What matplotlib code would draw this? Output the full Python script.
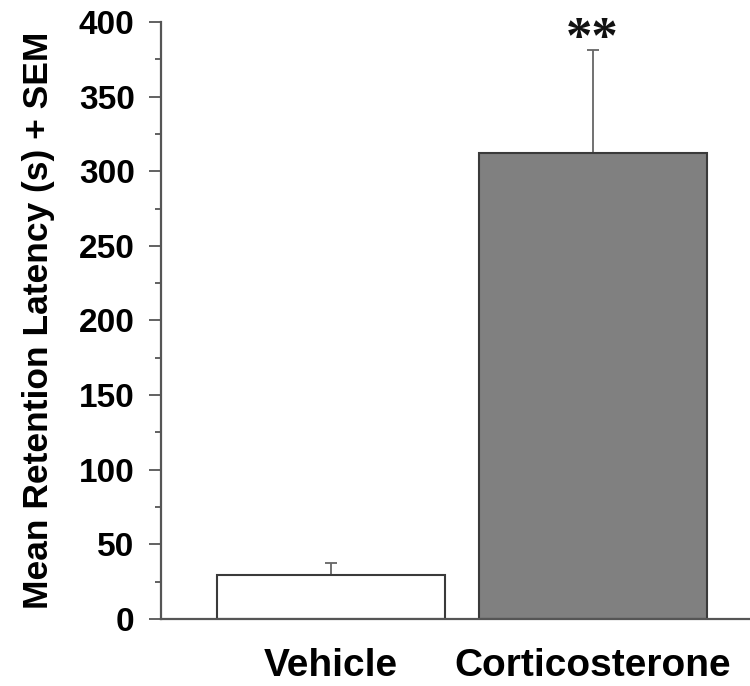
import matplotlib
matplotlib.use("Agg")
import matplotlib.pyplot as plt
from matplotlib.ticker import MultipleLocator

categories = ["Vehicle", "Corticosterone"]
means = [29.5, 312]
sem = [8, 69]
fills = ["#ffffff", "#808080"]
ylabel = "Mean Retention Latency (s) + SEM"
yticks = [0, 50, 100, 150, 200, 250, 300, 350, 400]
sig_label = "**"

plt.rcParams['font.family'] = ['Liberation Sans', 'DejaVu Sans']

fig = plt.figure(figsize=(7.5, 6.86), dpi=100)
ax = fig.add_axes([0.2147, 0.0977, 0.7853, 0.8703])

x = list(range(len(categories)))
ax.bar(x, means, width=0.872, color=fills, edgecolor="#3a3a3a", linewidth=1.5, zorder=2)
ax.errorbar(x, means, yerr=[[0, 0], sem], fmt='none', ecolor="#666666",
            elinewidth=1.3, capsize=4.5, capthick=1.3, zorder=1)

ax.text(x[1], means[1] + sem[1] - 1.5, sig_label, ha='center', va='baseline',
        fontsize=38, fontweight='bold', family=['Liberation Serif', 'DejaVu Serif'],
        color='#111111')

ax.set_xlim(-0.650, 1.602)
ax.set_ylim(0, 400)
ax.set_yticks(yticks)
ax.yaxis.set_minor_locator(MultipleLocator(25))
ax.set_xticks(x)
ax.set_xticklabels(categories, fontsize=28, fontweight='bold')
ax.tick_params(axis='x', length=0, pad=21)
ax.tick_params(axis='y', which='major', length=9, width=1.3, color="#555555",
               labelsize=24, pad=10)
ax.tick_params(axis='y', which='minor', length=4.5, width=1.3, color="#555555")
for lab in ax.get_yticklabels():
    lab.set_fontweight('bold')

ax.set_ylabel(ylabel, fontsize=25.5, fontweight='bold', labelpad=17)

for s in ['top', 'right']:
    ax.spines[s].set_visible(False)
for s in ['left', 'bottom']:
    ax.spines[s].set_color("#555555")
    ax.spines[s].set_linewidth(1.6)

fig.savefig("out.png", dpi=100)
